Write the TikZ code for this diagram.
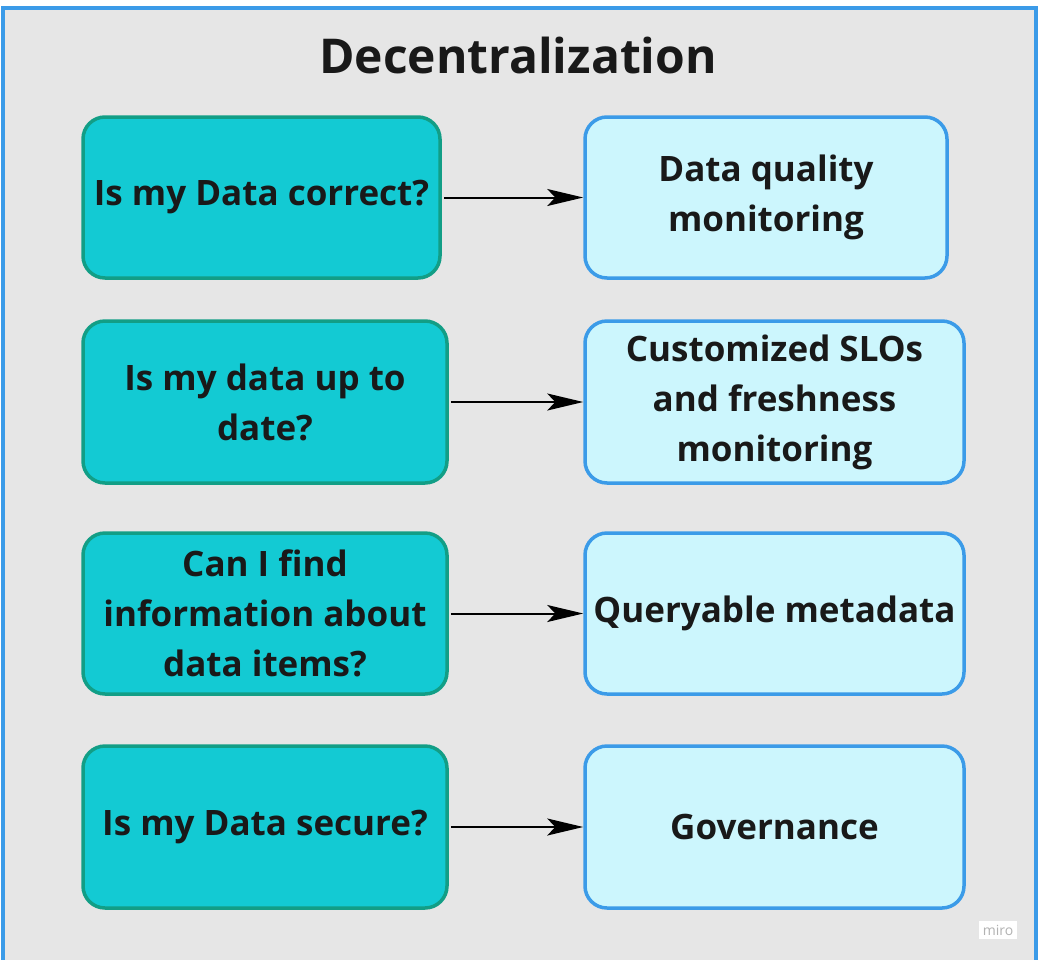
\documentclass[tikz,border=0pt]{standalone}
\usepackage{fontspec}
\setmainfont{Open Sans}
\usetikzlibrary{arrows.meta}
\definecolor{bgc}{HTML}{E6E6E6}
\definecolor{frame}{HTML}{3B9BE8}
\definecolor{tealf}{HTML}{13CAD3}
\definecolor{teald}{HTML}{129E86}
\definecolor{lightf}{HTML}{CCF6FD}
\tikzset{
 q/.style={draw=teald,fill=tealf,line width=3.5pt,rounded corners=22pt,align=center,font=\bfseries\fontsize{35}{50}\selectfont,text=black!90,inner sep=2pt},
 a/.style={draw=frame,fill=lightf,line width=3.5pt,rounded corners=22pt,align=center,font=\bfseries\fontsize{35}{50}\selectfont,text=black!90,inner sep=2pt},
 arr/.style={-{Stealth[length=36pt,width=17pt,inset=8pt]},line width=2pt,shorten <=2pt}
}
\begin{document}
\begin{tikzpicture}[x=1pt,y=-1pt]
\useasboundingbox (0,0) rectangle (1041,959);
\draw[fill=bgc,draw=frame,line width=3.5pt] (3,8) rectangle (1036,965);
\node[font=\bfseries\fontsize{48}{56}\selectfont,text=black!90] (title) at (518,55) {Decentralization};
\node[q,minimum width=357pt,minimum height=161pt] (q1) at (261.5,197.5) {Is my Data correct?};
\node[q,minimum width=364pt,minimum height=162pt] (q2) at (265,402) {Is my data up to\\date?};
\node[q,minimum width=364pt,minimum height=161pt] (q3) at (265,613.5) {Can I find\\information about\\data items?};
\node[q,minimum width=364pt,minimum height=162pt] (q4) at (265,827) {Is my Data secure?};
\node[a,minimum width=362pt,minimum height=161pt] (a1) at (766,197.5) {Data quality\\monitoring};
\node[a,minimum width=379pt,minimum height=162pt] (a2) at (774.5,402) {Customized SLOs\\and freshness\\monitoring};
\node[a,minimum width=379pt,minimum height=161pt] (a3) at (774.5,613.5) {Queryable metadata};
\node[a,minimum width=379pt,minimum height=162pt] (a4) at (774.5,827) {Governance};
\draw[arr] (q1.east) -- (a1.west);
\draw[arr] (q2.east) -- (a2.west);
\draw[arr] (q3.east) -- (a3.west);
\draw[arr] (q4.east) -- (a4.west);
\node[fill=white,text=black!30,font=\fontsize{14}{16}\selectfont,inner sep=4pt] (miro) at (998,930) {miro};
\end{tikzpicture}
\end{document}
